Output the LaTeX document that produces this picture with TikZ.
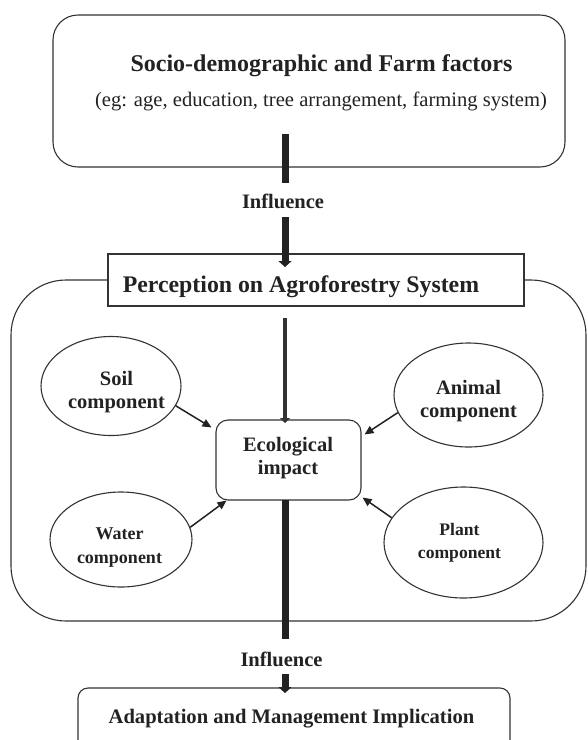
\documentclass[tikz,border=0pt]{standalone}
\usepackage{fontspec}
\setmainfont{Liberation Serif}
\usetikzlibrary{arrows.meta,shapes.geometric}
\definecolor{ink}{HTML}{222222}
\definecolor{edge}{HTML}{333333}
\begin{document}
\begin{tikzpicture}[x=1pt,y=-1pt,
  frame/.style={draw=edge, line width=1.1pt, inner sep=0pt},
  oval/.style={ellipse, draw=edge, line width=1.1pt, inner sep=0pt},
  lbl/.style={text=ink, font=\fontsize{20.5}{23}\selectfont\bfseries, align=center, inner sep=0pt},
  bar/.style={draw=ink, line width=7pt},
  bararrow/.style={draw=ink, line width=7pt, -{Triangle[width=13pt,length=6pt]}},
  midarrow/.style={draw=edge, line width=4pt, -{Triangle[width=10pt,length=5pt]}},
  thinarrow/.style={draw=ink, line width=1.5pt, -{Triangle[width=8pt,length=9pt]}},
]
\useasboundingbox (0,0) rectangle (588,740);
\clip (0,0) rectangle (588,740);
\fill[white] (0,0) rectangle (588,740);

% boxes
\node[frame, rounded corners=25pt, minimum width=512pt, minimum height=152pt] (top) at (309,91) {};
\node[frame, rounded corners=55pt, minimum width=575pt, minimum height=341pt] (outer) at (298.5,450.5) {};
\node[frame, fill=white, minimum width=416pt, minimum height=52pt] (perc) at (316,280) {};
\node[frame, rounded corners=12pt, minimum width=145pt, minimum height=80pt] (eco) at (288.5,460) {};
\node[frame, rounded corners=10pt, minimum width=432pt, minimum height=80pt] (adapt) at (294,728) {};

% ellipses
\node[oval, minimum width=140pt, minimum height=99pt] (soil) at (111,386) {};
\node[oval, minimum width=142pt, minimum height=95pt] (water) at (121,539.5) {};
\node[oval, minimum width=149pt, minimum height=104pt] (animal) at (468.5,395) {};
\node[oval, minimum width=159pt, minimum height=111pt] (plant) at (463.5,542.5) {};

% texts
\node[lbl, font=\fontsize{24}{28}\selectfont\bfseries, anchor=base] (ttl) at (321.5,71) {Socio-demographic and Farm factors};
\node[lbl, font=\fontsize{20.6}{24}\selectfont, anchor=base] (sub) at (321,106) {(eg: age, education, tree arrangement, farming system)};
\node[lbl, anchor=base] (inf1) at (283,208) {Influence};
\node[lbl, font=\fontsize{23.8}{28}\selectfont\bfseries, anchor=base] (perct) at (301,292) {Perception on Agroforestry System};
\node[lbl] (ecot) at (288,457.75) {Ecological\\impact};
\node[lbl] (soilt) at (116.5,391.75) {Soil\\component};
\node[lbl] (animalt) at (468.5,401.25) {Animal\\component};
\node[lbl, font=\fontsize{18}{24}\selectfont\bfseries] (watert) at (119.5,547.85) {Water\\component};
\node[lbl, font=\fontsize{17.6}{23}\selectfont\bfseries] (plantt) at (459.5,542.35) {Plant\\component};
\node[lbl, anchor=base] (inf2) at (281.5,666) {Influence};
\node[lbl, font=\fontsize{20.6}{24}\selectfont\bfseries, anchor=base] (adaptt) at (291.5,723) {Adaptation and Management Implication};

% main flow
\coordinate (a1) at (285,134);
\coordinate (a2) at (285,183);
\coordinate (a3) at (285,217);
\coordinate (a4) at (285,267);
\coordinate (m1) at (285,318);
\coordinate (m2) at (285,423);
\coordinate (b1) at (285,500);
\coordinate (b2) at (285,639);
\coordinate (b3) at (285,674);
\coordinate (b4) at (285,693);
\draw[bar] (a1) -- (a2);
\draw[bararrow] (a3) -- (a4);
\draw[midarrow] (m1) -- (m2);
\draw[bar] (b1) -- (b2);
\draw[bararrow] (b3) -- (b4);

% component arrows
\draw[thinarrow] (soil.-17) -- ([xshift=-4pt,yshift=-8pt]eco.north west);
\draw[thinarrow] (water.10) -- ([xshift=11pt]eco.south west);
\draw[thinarrow] (animal.194) -- ([xshift=3pt,yshift=-15pt]eco.north east);
\draw[thinarrow] (plant.161) -- ([xshift=1pt,yshift=3pt]eco.south east);
\end{tikzpicture}
\end{document}
